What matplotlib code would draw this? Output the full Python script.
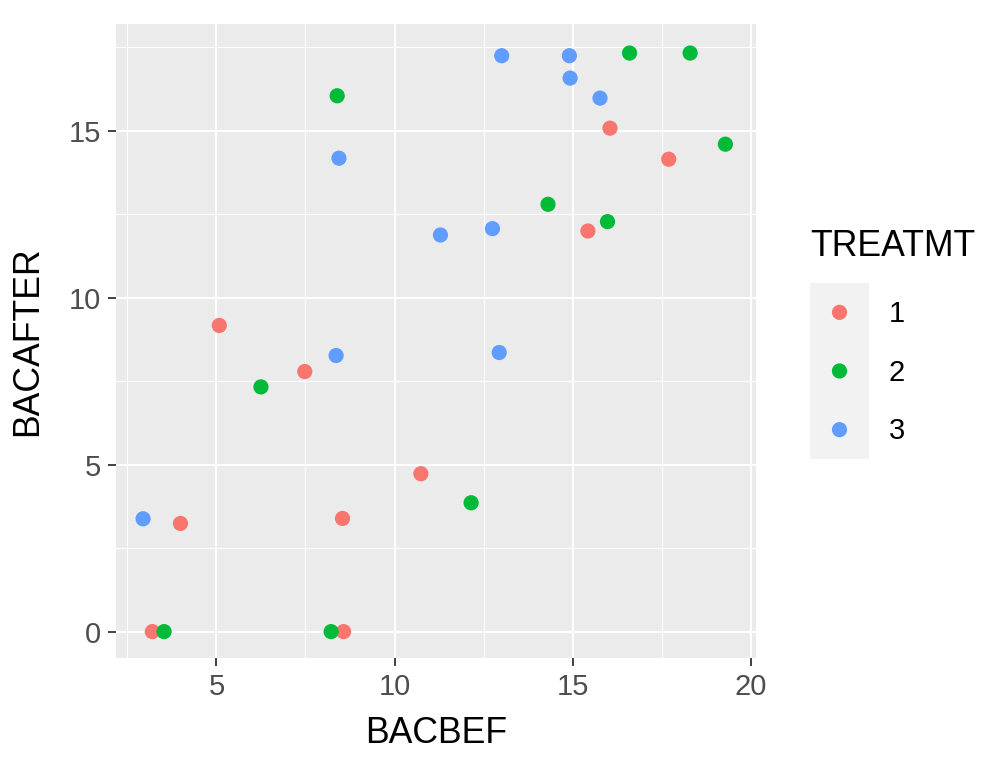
import numpy as np
import matplotlib
matplotlib.use("Agg")
import matplotlib.pyplot as plt

# data (BACBEF vs BACAFTER, by TREATMT)
bacbef_1 = [3.20, 3.99, 5.08, 7.48, 8.54, 8.57, 10.74, 15.43, 16.05, 17.70]
bacafter_1 = [0.00, 3.24, 9.17, 7.79, 3.39, 0.00, 4.73, 12.00, 15.08, 14.15]

bacbef_2 = [3.53, 6.25, 8.22, 8.39, 12.15, 14.31, 15.98, 16.60, 18.30, 19.29]
bacafter_2 = [0.00, 7.33, 0.00, 16.05, 3.86, 12.80, 12.28, 17.33, 17.33, 14.60]

bacbef_3 = [2.94, 8.36, 8.44, 11.29, 12.75, 12.94, 13.01, 14.91, 14.93, 15.77]
bacafter_3 = [3.38, 8.27, 14.18, 11.88, 12.07, 8.36, 17.25, 17.25, 16.58, 15.98]

groups = ["1", "2", "3"]
colors = ["#F8766D", "#00BA38", "#619CFF"]

plt.rcParams['font.family'] = ['Liberation Sans', 'DejaVu Sans']

W, H = 1007, 772
fig = plt.figure(figsize=(W / 100, H / 100), dpi=100)
fig.patch.set_facecolor("white")

# main panel
ax = fig.add_axes([116 / W, 1 - 658 / H, (756 - 116) / W, (658 - 24) / H])
ax.set_facecolor("#EBEBEB")
for s in ax.spines.values():
    s.set_visible(False)

ax.set_xlim(2.18, 20.15)
ax.set_ylim(-0.79, 18.2)
ax.set_xticks([5, 10, 15, 20])
ax.set_yticks([0, 5, 10, 15])
ax.set_xticks([2.5, 7.5, 12.5, 17.5], minor=True)
ax.set_yticks([2.5, 7.5, 12.5, 17.5], minor=True)
ax.grid(which="major", color="white", linewidth=1.4)
ax.grid(which="minor", color="white", linewidth=0.7)
ax.set_axisbelow(True)
ax.tick_params(which="major", length=5.5, width=1.3, color="#333333",
               labelsize=21, labelcolor="#4D4D4D")
ax.tick_params(axis="x", which="major", pad=5)
ax.tick_params(axis="y", which="major", pad=5.5)
ax.tick_params(which="minor", length=0)

xs = [bacbef_1, bacbef_2, bacbef_3]
ys = [bacafter_1, bacafter_2, bacafter_3]
for x, y, c in zip(xs, ys, colors):
    ax.scatter(x, y, s=120, color=c, edgecolors="none", zorder=3)

ax.set_xlabel("BACBEF", fontsize=25.7, color="black")
ax.set_ylabel("BACAFTER", fontsize=25.7, color="black")
ax.xaxis.set_label_coords(0.5, -0.1183)
ax.xaxis.label.set_va("center")
ax.yaxis.set_label_coords(-0.1383, 0.5)
ax.yaxis.label.set_va("center")

# legend, ggplot style
fig.text(810 / W, 1 - 246 / H, "TREATMT", fontsize=25.7, va="center", ha="left")
lax = fig.add_axes([810 / W, 1 - 459 / H, 59 / W, 176 / H])
lax.set_facecolor("#F2F2F2")
for s in lax.spines.values():
    s.set_visible(False)
lax.set_xticks([])
lax.set_yticks([])
lax.set_xlim(0, 1)
lax.set_ylim(0, 3)
for i, (g, c) in enumerate(zip(groups, colors)):
    yy = 2.5 - i
    lax.scatter([0.5], [yy], s=120, color=c, edgecolors="none")
    lax.text(1.33, yy - 0.03, g, fontsize=21, va="center", ha="left",
             transform=lax.transData, clip_on=False)

fig.savefig("out.png", dpi=100)
